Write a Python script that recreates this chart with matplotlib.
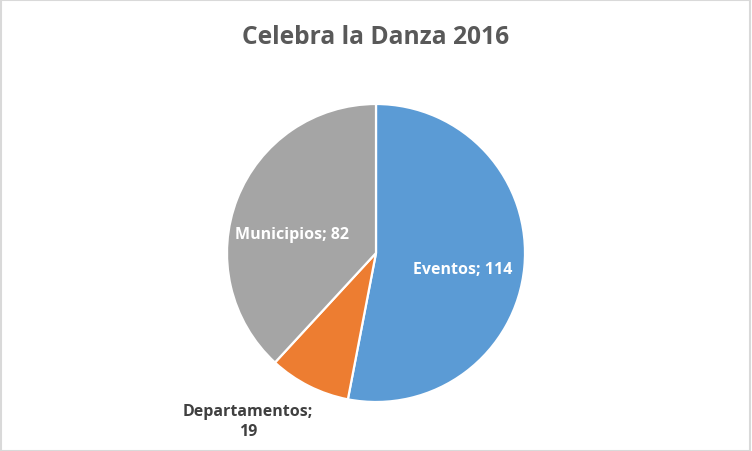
import matplotlib
matplotlib.use("Agg")
import matplotlib.pyplot as plt
from matplotlib.patches import Rectangle

categories = ["Eventos", "Departamentos", "Municipios"]
values = [114, 19, 82]
title = "Celebra la Danza 2016"

colors = ["#5B9BD5", "#ED7D31", "#A5A5A5"]
label_colors = ["white", "#404040", "white"]
label_pos = [(0.584, -0.107), (-0.859, -1.128), (-0.564, 0.128)]
label_fmt = ["{c}; {v}", "{c};\n{v}", "{c}; {v}"]

fig = plt.figure(figsize=(7.52, 4.52), dpi=100)
fig.patch.set_facecolor("white")
fig.patches.append(Rectangle((0.001, 0.001), 0.997, 0.997, transform=fig.transFigure,
                             fill=False, edgecolor="#D9D9D9", linewidth=1.5))

ax = fig.add_axes([(376 - 149) / 752, (452 - 403) / 452, 298 / 752, 298 / 452])
ax.pie(values, colors=colors, startangle=90, counterclock=False, radius=1,
       wedgeprops=dict(edgecolor="white", linewidth=1.6))
ax.set_xlim(-1, 1)
ax.set_ylim(-1, 1)
ax.set_aspect("equal")
ax.axis("off")

for c, v, col, pos, fmt in zip(categories, values, label_colors, label_pos, label_fmt):
    ax.text(pos[0], pos[1], fmt.format(c=c, v=v), ha="center", va="center",
            color=col, fontsize=11.5, fontweight="bold", family="Open Sans",
            linespacing=1.35, clip_on=False)

fig.text(0.5, (452 - 38) / 452, title, ha="center", va="center",
         fontsize=17.7, fontweight="bold", color="#595959", family="Open Sans")

fig.savefig("out.png", dpi=100)
